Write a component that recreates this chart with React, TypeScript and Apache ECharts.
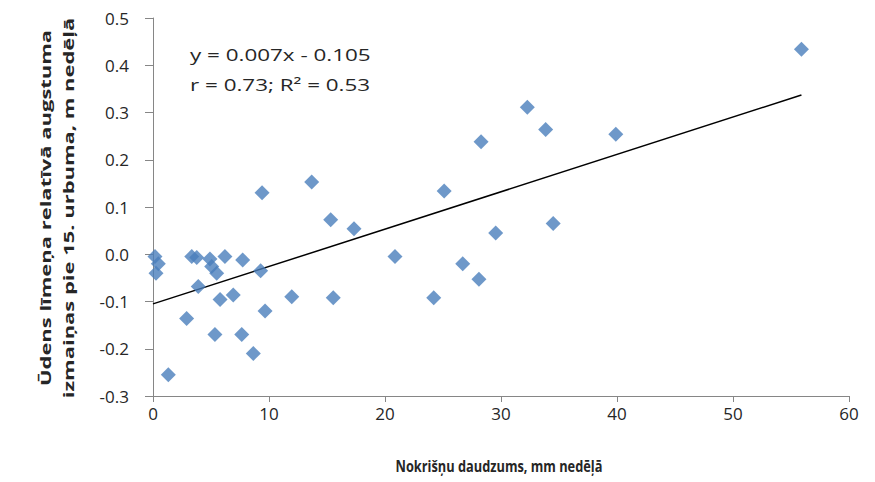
import React, { useEffect, useRef } from "react";
import * as echarts from "echarts";

const xValues = [
  0.17, 0.46, 0.26, 3.34, 3.77, 4.91, 6.2, 7.73, 5.06, 5.49, 3.9, 5.78, 6.92,
  9.28, 11.96, 2.9, 5.34, 7.65, 9.66, 8.65, 1.32, 9.4, 13.68, 15.32, 17.33,
  25.1, 28.28, 32.27, 33.85, 34.5, 29.54, 20.86, 26.7, 28.1, 15.54, 24.2, 39.9,
  55.9,
];
const yValues = [
  -0.005, -0.02, -0.04, -0.005, -0.007, -0.01, -0.005, -0.012, -0.026, -0.04,
  -0.068, -0.096, -0.086, -0.035, -0.09, -0.136, -0.17, -0.17, -0.12, -0.21,
  -0.255, 0.13, 0.153, 0.073, 0.054, 0.134, 0.238, 0.311, 0.264, 0.065, 0.045,
  -0.005, -0.02, -0.053, -0.092, -0.092, 0.254, 0.434,
];
const trendX = [0, 55.9];
const trendY = [-0.105, 0.337];
const xTicks = { min: 0, max: 60, interval: 10 };
const yTicks = { min: -0.3, max: 0.5, interval: 0.1 };
const equationLines = ["y = 0.007x - 0.105", "r = 0.73; R\u00b2 = 0.53"];
const xTitle = "Nokrišņu daudzums, mm nedēļā";
const yTitle = ["Ūdens līmeņa relatīvā augstuma", "izmaiņas pie 15. urbuma, m nedēļā"];

const FONT = "'Open Sans', 'Noto Sans', sans-serif";
const TEXT = "#262626";

export default function App() {
  const ref = useRef<HTMLDivElement>(null);
  useEffect(() => {
    if (!ref.current) return;
    const chart = echarts.init(ref.current, undefined, { renderer: "svg" });
    const points = xValues.map((x, i) => [x, yValues[i]]);
    const trend = trendX.map((x, i) => [x, trendY[i]]);
    chart.setOption({
      animation: false,
      backgroundColor: "#ffffff",
      grid: { left: 153, right: 26, top: 18, bottom: 86, containLabel: false },
      xAxis: {
        type: "value",
        min: xTicks.min,
        max: xTicks.max,
        interval: xTicks.interval,
        axisLine: { show: true, onZero: false, lineStyle: { color: "#868686", width: 1 } },
        axisTick: { show: true, inside: false, length: 6, lineStyle: { color: "#868686" } },
        splitLine: { show: false },
        axisLabel: { color: TEXT, fontFamily: FONT, fontSize: 17, margin: 9 },
      },
      yAxis: {
        type: "value",
        min: yTicks.min,
        max: yTicks.max,
        interval: yTicks.interval,
        axisLine: { show: true, onZero: false, lineStyle: { color: "#868686", width: 1 } },
        axisTick: { show: true, inside: false, length: 8, lineStyle: { color: "#868686" } },
        splitLine: { show: false },
        axisLabel: {
          color: TEXT,
          fontFamily: FONT,
          fontSize: 17,
          margin: 24,
          formatter: (v: number) => v.toFixed(1),
        },
      },
      series: [
        {
          type: "scatter",
          data: points,
          symbol: "diamond",
          symbolSize: 15,
          itemStyle: { color: "#4a7ebb" },
          z: 3,
        },
        {
          type: "line",
          data: trend,
          symbol: "none",
          lineStyle: { color: "#000000", width: 1.5 },
          z: 2,
        },
      ],
      graphic: [
        {
          type: "text",
          x: 190,
          y: 55,
          scaleX: 1.32,
          style: {
            text: equationLines[0],
            font: `17px ${FONT}`,
            fill: TEXT,
            verticalAlign: "middle",
          },
        },
        {
          type: "text",
          x: 190,
          y: 85,
          scaleX: 1.32,
          style: {
            text: equationLines[1],
            font: `17px ${FONT}`,
            fill: TEXT,
            verticalAlign: "middle",
          },
        },
        {
          type: "text",
          x: 499,
          y: 466,
          scaleX: 0.8,
          style: {
            text: xTitle,
            font: `bold 16px ${FONT}`,
            fill: TEXT,
            align: "center",
            verticalAlign: "middle",
          },
        },
        {
          type: "text",
          x: 57,
          y: 208,
          rotation: Math.PI / 2,
          scaleX: 1.57,
          style: {
            text: yTitle.join("\n"),
            font: `bold 14px ${FONT}`,
            lineHeight: 23,
            fill: TEXT,
            align: "center",
            verticalAlign: "middle",
          },
        },
      ],
    });
    return () => chart.dispose();
  }, []);
  return (
    <div
      ref={ref}
      style={{ position: "fixed", left: 0, top: 0, width: 875, height: 482 }}
    />
  );
}
